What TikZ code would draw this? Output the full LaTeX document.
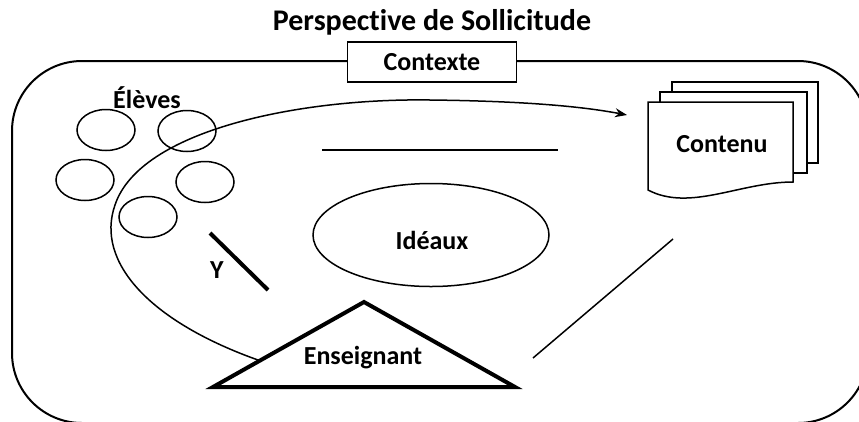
\documentclass[tikz,border=0pt]{standalone}
\usepackage{fontspec}
\setmainfont[Ligatures=NoCommon]{Carlito}
\usepackage{tikz}
\usetikzlibrary{arrows.meta,calc,shapes.geometric,positioning}
\tikzset{
    >=Stealth,
    every node/.append style={align=center,font=\bfseries\fontsize{26}{30}\selectfont},
    eleve/.style={ellipse,draw,line width=1.5pt,minimum width=58pt,minimum height=41pt,inner sep=0pt},
    cadre/.style={rectangle,draw,line width=1.5pt,fill=white,minimum width=169pt,minimum height=40pt,inner sep=0pt},
    trait/.style={line width=1.5pt},
    gras/.style={line width=4pt,line join=miter},
    feuille/.style={draw,line width=1.5pt,fill=white},
}

\begin{document}
\begin{tikzpicture}[x=1pt,y=-1pt]
    \useasboundingbox (0,0) rectangle (859,421);
    \clip (0,0) rectangle (859,421);

    % cadre exterieur
    \draw[line width=2pt,rounded corners=70pt] (12,61) rectangle (868,423);
    \node[cadre] (ctx) at (432,62) {Contexte};
    \node[above=3pt of ctx,font=\bfseries\fontsize{30}{34}\selectfont] (titre) {Perspective de Sollicitude};

    % eleves
    \node (el) at (147,98) {Élèves};
    \node[eleve] (s1) at (106,130) {};
    \node[eleve] (s2) at (187,131) {};
    \node[eleve] (s3) at (85,180) {};
    \node[eleve] (s4) at (205,182) {};
    \node[eleve] (s5) at (148,217) {};

    % contenu
    \draw[feuille] (672,82) rectangle (818,163);
    \draw[feuille] (660,92) rectangle (807,173);
    \draw[feuille] (648,102) -- (793,102) -- (793,182)
        .. controls (740,182) and (690,212) .. (648,190) -- cycle;
    \node (cont) at (722,144) {Contenu};

    % ideaux
    \node[ellipse,draw,line width=1.5pt,minimum width=236pt,minimum height=103pt] (id) at (431,235) {};
    \node (idt) at (432,240) {Idéaux};

    % enseignant
    \coordinate (tA) at (364,302);
    \coordinate (tB) at (213,387);
    \coordinate (tC) at (515,387);
    \draw[gras] (tA) -- (tB) -- (tC) -- cycle;
    \node (ens) at (363,358) {Enseignant};

    % traits
    \draw[trait] (322,150) -- (558,150);
    \draw[trait] (533,358) -- (673,239);
    \draw[gras,line cap=butt] (210,233) -- (268,290);
    \node (y) at (217,270) {Y};

    % boucle
    \coordinate (dep) at ($(tA)!0.69!(tB)$);
    \coordinate (arr) at (627,115);
    \draw[trait,-{Stealth[length=12pt,width=9pt]}] (dep)
        .. controls (150,322) and (95,262) .. (115,205)
        .. controls (140,130) and (300,98) .. (430,100)
        .. controls (520,101) and (580,106) .. (arr);
\end{tikzpicture}
\end{document}
